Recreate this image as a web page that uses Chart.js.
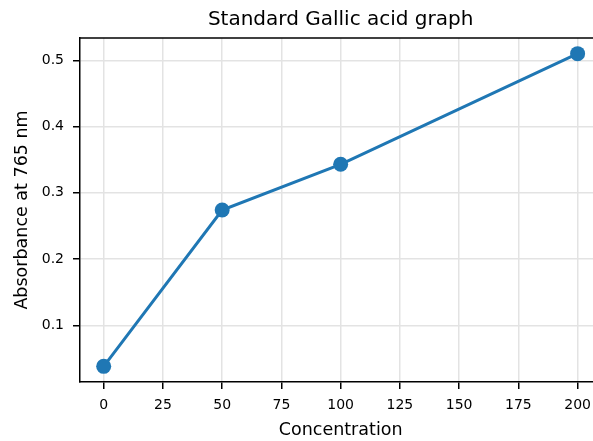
<!DOCTYPE html>
<html>
<head>
<meta charset="utf-8">
<script src="https://cdn.jsdelivr.net/npm/chart.js@4/dist/chart.umd.min.js"></script>
<style>
  html, body { margin: 0; padding: 0; background: #fff; overflow: hidden; }
  canvas { display: block; }
</style>
</head>
<body>
<canvas id="gallic" width="593" height="441"></canvas>
<script>
// ---------- Data ----------
const CONCENTRATION = [0, 50, 100, 200];
const ABSORBANCE = [0.038, 0.274, 0.343, 0.510];
const X_TICKS = [0, 25, 50, 75, 100, 125, 150, 175, 200];
const Y_TICKS = [0.1, 0.2, 0.3, 0.4, 0.5];

const TITLE = "Standard Gallic acid graph";
const X_LABEL = "Concentration";
const Y_LABEL = "Absorbance at 765 nm";

const BLUE = "#1f77b4";
const FONT = "'DejaVu Sans', sans-serif";

// x axis spans -10..210 but the canvas stops a bit before 210
const X_MIN = -10, X_MAX = 210, X_SHOWN = 206.5;

// top spine, plus title and x label centred on the full axis span
const decor = {
  id: "decor",
  afterDraw(chart) {
    const { ctx, chartArea: a, scales } = chart;
    const mid = scales.x.getPixelForValue((X_MIN + X_MAX) / 2);
    ctx.save();
    ctx.strokeStyle = "#000";
    ctx.lineWidth = 1.5;
    ctx.beginPath();
    ctx.moveTo(a.left, a.top);
    ctx.lineTo(a.right, a.top);
    ctx.stroke();

    ctx.fillStyle = "#000";
    ctx.textAlign = "center";
    ctx.textBaseline = "alphabetic";
    ctx.font = `20px ${FONT}`;
    ctx.fillText(TITLE, mid, 25);
    ctx.font = `17.5px ${FONT}`;
    ctx.fillText(X_LABEL, mid, 435);
    ctx.restore();
  },
};

const fixedTicks = (list) => (scale) => {
  scale.ticks = list.map((v) => ({ value: v }));
};

new Chart(document.getElementById("gallic"), {
  type: "line",
  data: {
    datasets: [{
      data: CONCENTRATION.map((x, i) => ({ x, y: ABSORBANCE[i] })),
      borderColor: BLUE,
      backgroundColor: BLUE,
      borderWidth: 3,
      pointRadius: 7.5,
      pointHoverRadius: 7.5,
      pointBorderWidth: 0,
      pointBackgroundColor: BLUE,
      tension: 0,
      clip: false,
    }],
  },
  options: {
    responsive: false,
    animation: false,
    layout: { autoPadding: false, padding: { left: 0, top: 38, bottom: 0, right: 0 } },
    plugins: {
      legend: { display: false },
      tooltip: { enabled: false },
    },
    scales: {
      x: {
        type: "linear",
        min: X_MIN,
        max: X_SHOWN,
        afterBuildTicks: fixedTicks(X_TICKS),
        afterFit: (s) => {
          s.height = 59;
          s.paddingLeft = 0;
          s.paddingRight = 0;
        },
        ticks: {
          color: "#000",
          padding: 8,
          font: { family: FONT, size: 14 },
          callback: (v) => String(v),
        },
        grid: { color: "#e3e3e3", lineWidth: 1.5, tickLength: 7, tickColor: "#000", tickWidth: 1.5 },
        border: { color: "#000", width: 1.5 },
      },
      y: {
        type: "linear",
        min: 0.0144,
        max: 0.5336,
        afterBuildTicks: fixedTicks(Y_TICKS),
        afterFit: (s) => { s.width = 80; },
        ticks: {
          color: "#000",
          padding: 9,
          font: { family: FONT, size: 14 },
          callback: (v) => v.toFixed(1),
        },
        grid: { color: "#e3e3e3", lineWidth: 1.5, tickLength: 7, tickColor: "#000", tickWidth: 1.5 },
        border: { color: "#000", width: 1.5 },
        title: {
          display: true,
          text: Y_LABEL,
          color: "#000",
          font: { family: FONT, size: 17.5 },
          padding: { top: 12, bottom: 0 },
        },
      },
    },
  },
  plugins: [decor],
});
</script>
</body>
</html>
